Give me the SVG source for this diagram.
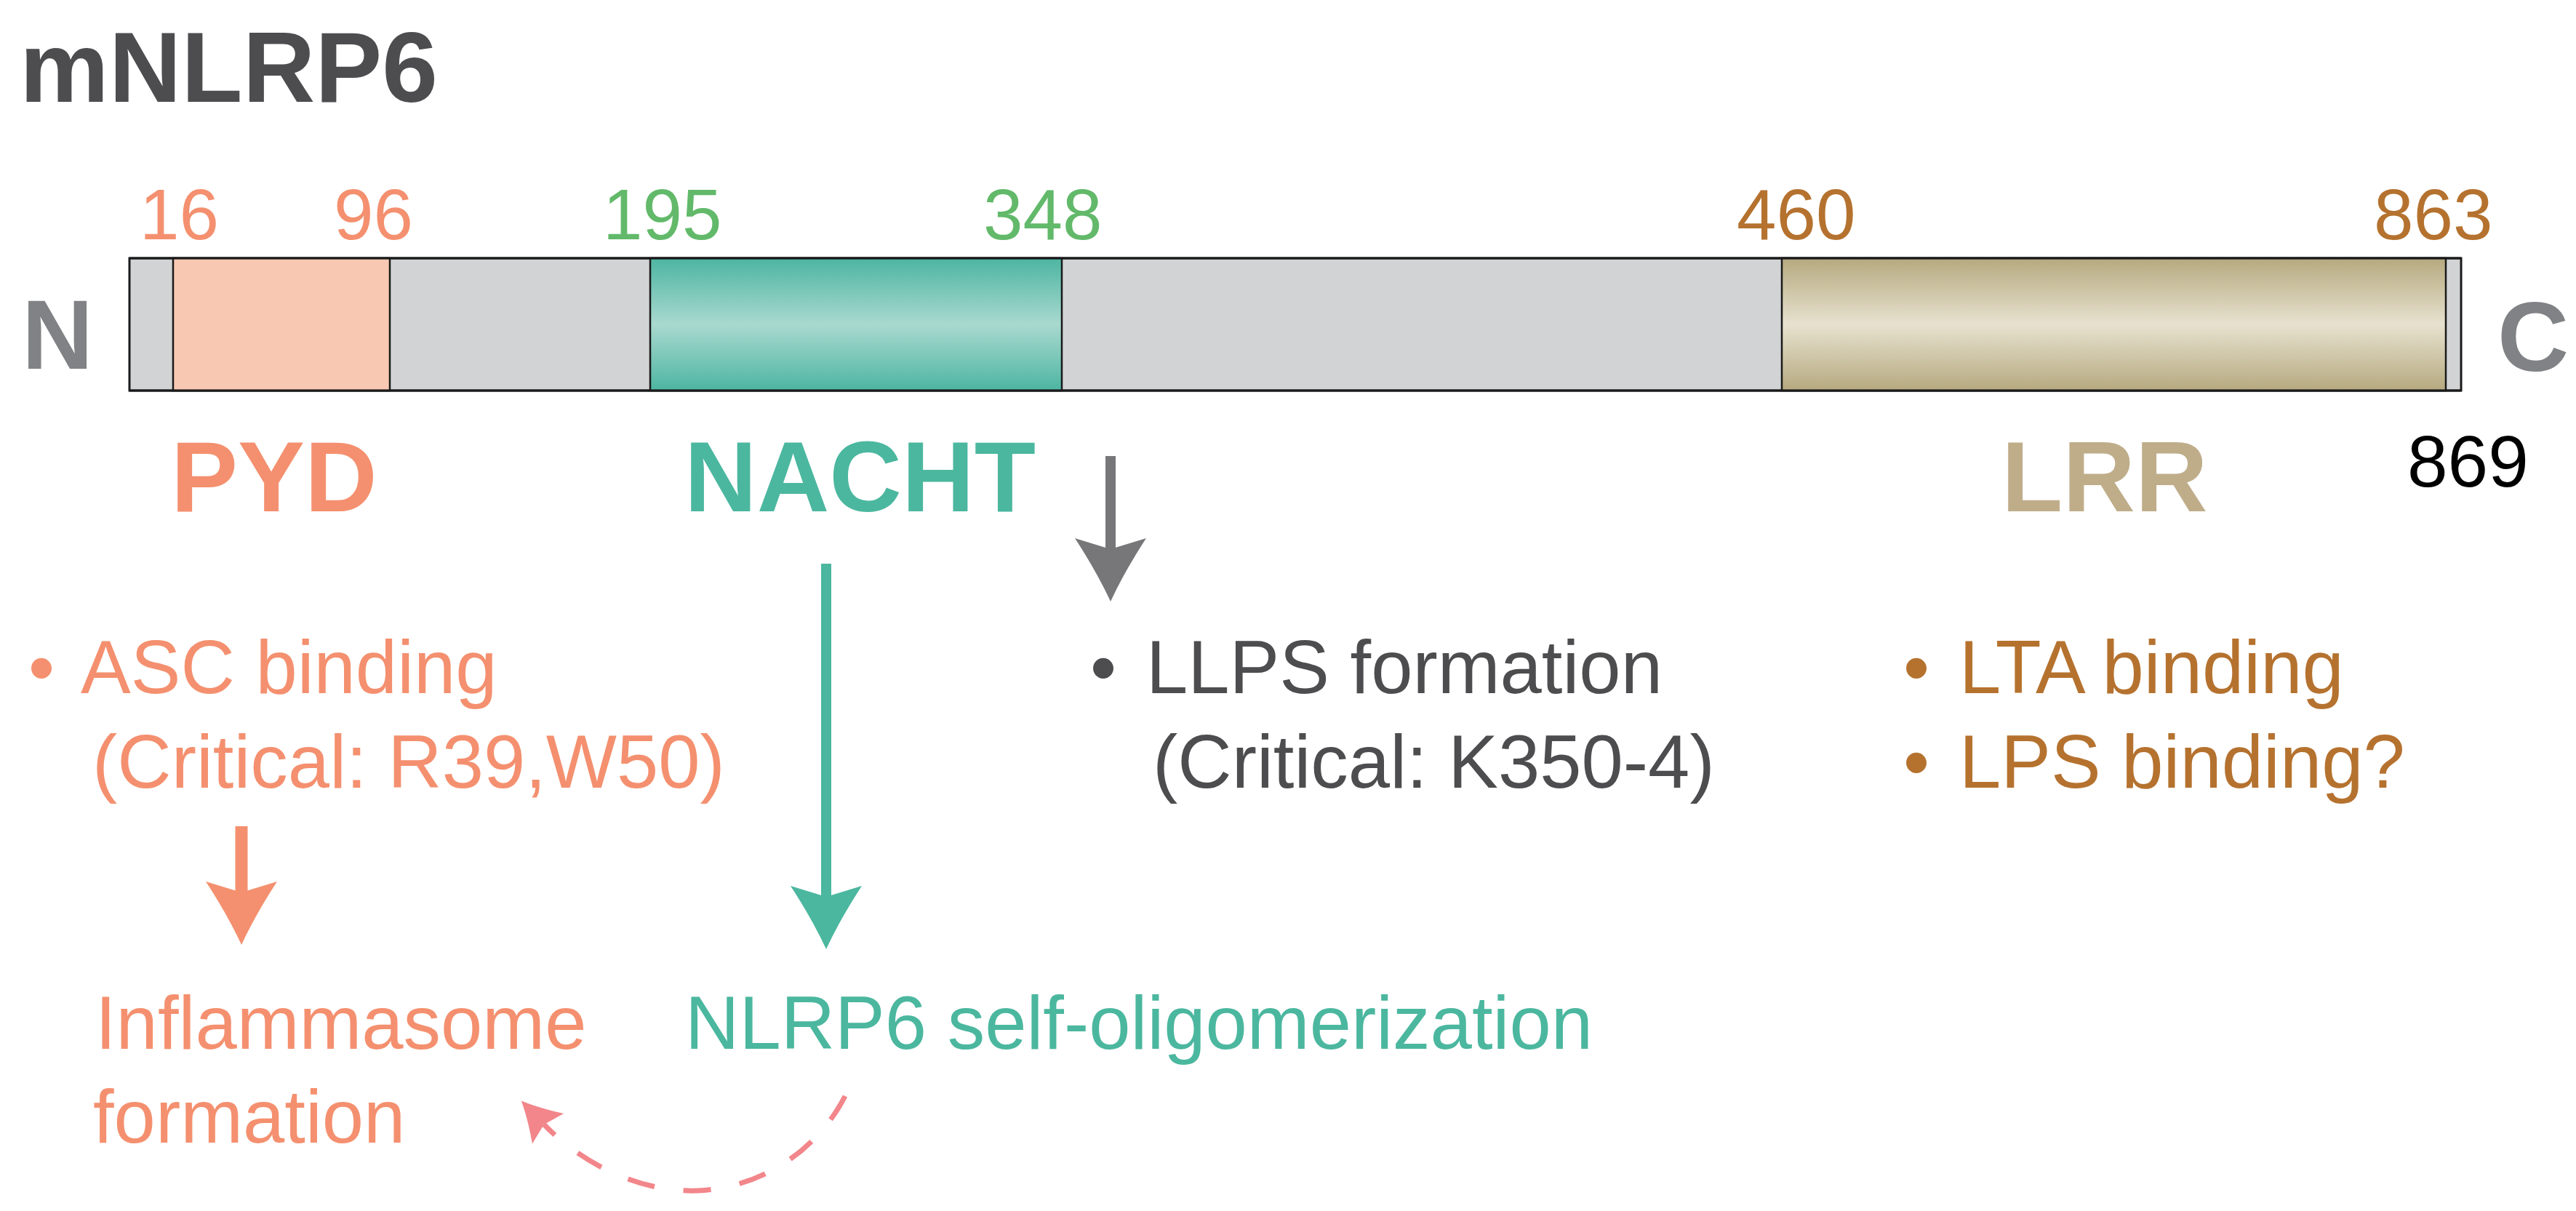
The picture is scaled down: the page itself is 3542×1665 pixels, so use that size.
<svg xmlns="http://www.w3.org/2000/svg" width="3542" height="1665" viewBox="0 0 3542 1665">
<style>
text{font-family:"Liberation Sans",Arial,Helvetica,sans-serif}
.b{font-weight:bold}
.num{font-size:98px}
.lbl{font-size:103px}
.dom{font-size:138px;font-weight:bold}
.sal{fill:#f4906f}
.grn{fill:#62b96a}
.brn{fill:#b5722f}
.tea{fill:#4bb79f}
.gry{fill:#4d4d4f}
.seg{stroke:#1a1a1a;stroke-width:2.5}
</style>
<defs>
<linearGradient id="gN" x1="0" y1="0" x2="0" y2="1">
<stop offset="0" stop-color="#4db5a2"/>
<stop offset="0.5" stop-color="#a9d9cf"/>
<stop offset="1" stop-color="#4db5a2"/>
</linearGradient>
<linearGradient id="gL" x1="0" y1="0" x2="0" y2="1">
<stop offset="0" stop-color="#b6a97f"/>
<stop offset="0.5" stop-color="#e7e2cf"/>
<stop offset="1" stop-color="#b6a97f"/>
</linearGradient>
<marker id="aS" markerUnits="userSpaceOnUse" markerWidth="90" markerHeight="100" viewBox="0 -50 90 100" refX="15" refY="0" orient="auto" overflow="visible">
<path d="M87,0 Q46,-19 0,-49 L15,0 L0,49 Q46,19 87,0Z" fill="#f4906f"/>
</marker>
<marker id="aT" markerUnits="userSpaceOnUse" markerWidth="90" markerHeight="100" viewBox="0 -50 90 100" refX="15" refY="0" orient="auto" overflow="visible">
<path d="M87,0 Q46,-19 0,-49 L15,0 L0,49 Q46,19 87,0Z" fill="#4bb79f"/>
</marker>
<marker id="aG" markerUnits="userSpaceOnUse" markerWidth="90" markerHeight="100" viewBox="0 -50 90 100" refX="15" refY="0" orient="auto" overflow="visible">
<path d="M87,0 Q46,-19 0,-49 L15,0 L0,49 Q46,19 87,0Z" fill="#77777a"/>
</marker>
<marker id="aP" markerUnits="userSpaceOnUse" markerWidth="60" markerHeight="70" viewBox="0 -35 60 70" refX="8" refY="0" orient="auto" overflow="visible">
<path d="M53,0 Q28,-11 0,-30 L8,0 L0,30 Q28,11 53,0Z" fill="#f2868a"/>
</marker>
</defs>

<g id="title">
<text class="b gry" x="27" y="140" font-size="138">mNLRP6</text>
</g>

<g id="protein-bar">
<rect x="178" y="355" width="3206" height="182" fill="#d1d3d4" stroke="#1a1a1a" stroke-width="3"/>
<rect class="seg" x="238" y="355" width="298" height="182" fill="#f9c8b3"/>
<rect class="seg" x="894" y="355" width="566" height="182" fill="url(#gN)"/>
<rect class="seg" x="2450" y="355" width="913" height="182" fill="url(#gL)"/>
<line x1="178" y1="355" x2="3384" y2="355" stroke="#1a1a1a" stroke-width="3"/>
<line x1="178" y1="537" x2="3384" y2="537" stroke="#1a1a1a" stroke-width="3"/>
</g>

<g id="termini">
<text class="b" x="30" y="507" font-size="136" fill="#808285">N</text>
<text class="b" x="3434" y="510" font-size="136" fill="#808285">C</text>
<text x="3310" y="669" font-size="100" fill="#000">869</text>
</g>

<g id="positions">
<text class="num sal" x="192" y="329">16</text>
<text class="num sal" x="459" y="329">96</text>
<text class="num grn" x="829" y="329">195</text>
<text class="num grn" x="1352" y="329">348</text>
<text class="num brn" x="2388" y="329">460</text>
<text class="num brn" x="3264" y="329">863</text>
</g>

<g id="PYD">
<text class="dom sal" x="235" y="703">PYD</text>
</g>
<g id="NACHT">
<text class="dom tea" x="941" y="703">NACHT</text>
</g>
<g id="LRR">
<text class="dom" x="2752" y="703" fill="#bfad8a">LRR</text>
</g>

<g id="asc-binding">
<text class="lbl sal"><tspan x="39" y="953">•</tspan><tspan x="111" y="953">ASC binding</tspan><tspan x="127" y="1083">(Critical: R39,W50)</tspan></text>
</g>

<g id="llps-formation">
<text class="lbl gry"><tspan x="1499" y="953">•</tspan><tspan x="1576" y="953">LLPS formation</tspan><tspan x="1585" y="1083">(Critical: K350-4)</tspan></text>
</g>

<g id="lrr-binding">
<text class="lbl brn"><tspan x="2617" y="953">•</tspan><tspan x="2694" y="953">LTA binding</tspan><tspan x="2617" y="1083">•</tspan><tspan x="2694" y="1083">LPS binding?</tspan></text>
</g>

<g id="inflammasome">
<text class="lbl sal" font-size="104"><tspan x="131" y="1442">Inflammasome</tspan><tspan x="128" y="1571">formation</tspan></text>
</g>

<g id="oligomerization">
<text class="lbl tea" x="942" y="1442" font-size="104">NLRP6 self-oligomerization</text>
</g>

<g id="connectors">
<line x1="1527" y1="627" x2="1527" y2="755" stroke="#77777a" stroke-width="14" marker-end="url(#aG)"/>
<line x1="1136" y1="775" x2="1136" y2="1233" stroke="#4bb79f" stroke-width="14" marker-end="url(#aT)"/>
<line x1="332" y1="1136" x2="332" y2="1227" stroke="#f4906f" stroke-width="17" marker-end="url(#aS)"/>
<path d="M1162,1507 C1130,1570 1060,1632 960,1637 C880,1640 800,1600 748,1546" fill="none" stroke="#f2868a" stroke-width="7" stroke-dasharray="38 40" marker-end="url(#aP)"/>
</g>
</svg>
